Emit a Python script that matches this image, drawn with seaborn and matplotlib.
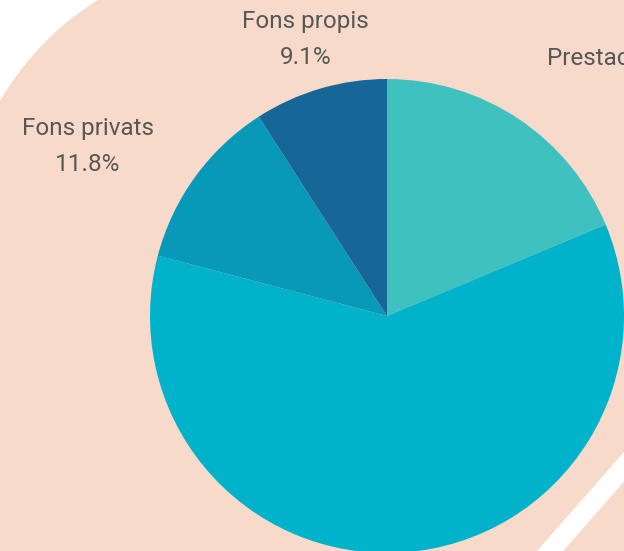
import numpy as np
import matplotlib
matplotlib.use("Agg")
import matplotlib.pyplot as plt
import seaborn as sns
from matplotlib.patches import Polygon, Rectangle

# dades: origen dels fons (%)
fonts = ['Prestació de serveis', 'Fons públics', 'Fons privats', 'Fons propis']
percent = [18.7, 60.4, 11.8, 9.1]
colors = ['#3FC1C0', '#00B2CA', '#0899B8', '#176698']

sns.set_theme(style='white')
plt.rcParams['font.family'] = ['Roboto', 'DejaVu Sans']

W, H = 624, 551
fig = plt.figure(figsize=(W / 100, H / 100), dpi=100)
fig.patch.set_facecolor('white')
ax = fig.add_axes([0, 0, 1, 1])

# fons color préssec
ax.add_patch(Rectangle((-60, -60), W + 120, H + 120, facecolor='#F8DACB',
                       edgecolor='none', zorder=0))

# cantonada blanca arrodonida (dalt a l'esquerra)
ccx, ccy, cr = 254, 302, 294
ang = np.linspace(np.pi, np.pi / 2, 60)
arc = np.column_stack([ccx + cr * np.cos(ang), ccy + cr * np.sin(ang)])
corner = np.vstack([[-60, ccy], arc, [ccx, H + 60], [-60, H + 60]])
ax.add_patch(Polygon(corner, closed=True, facecolor='white', edgecolor='none', zorder=1))

# franja blanca (baix a la dreta)
v = np.array([87, 99])
p1, p2 = np.array([537, 0]), np.array([563, 0])
ax.add_patch(Polygon([p1 - v, p1 + 2 * v, p2 + 2 * v, p2 - v],
                     closed=True, facecolor='white', edgecolor='none', zorder=1))

# pastís
cx, cy, r = 387, 235, 237
wedges, _ = ax.pie(percent, colors=sns.color_palette(colors), startangle=90,
                   counterclock=False, center=(cx, cy), radius=r,
                   wedgeprops=dict(linewidth=0))
for w in wedges:
    w.set_zorder(2)

# etiquetes
d = 1.215 * r
for w, name, p in zip(wedges, fonts, percent):
    mid = np.deg2rad((w.theta1 + w.theta2) / 2)
    x, y = cx + d * np.cos(mid), cy + d * np.sin(mid)
    if y < 0:      # queda fora del quadre
        continue
    if abs(np.cos(mid)) < 0.3:
        ha = 'center'
    elif np.cos(mid) > 0:
        ha = 'left'
    else:
        ha = 'right'
    ax.text(x, y, f'{name}\n{p}%', ha=ha, va='center', ma='center',
            fontsize=17.5, color='#575757', linespacing=1.75, zorder=3)

ax.set_xlim(0, W)
ax.set_ylim(0, H)
ax.set_aspect('auto')
ax.set_frame_on(False)
ax.set_xticks([])
ax.set_yticks([])
fig.savefig('out.png', dpi=100)
